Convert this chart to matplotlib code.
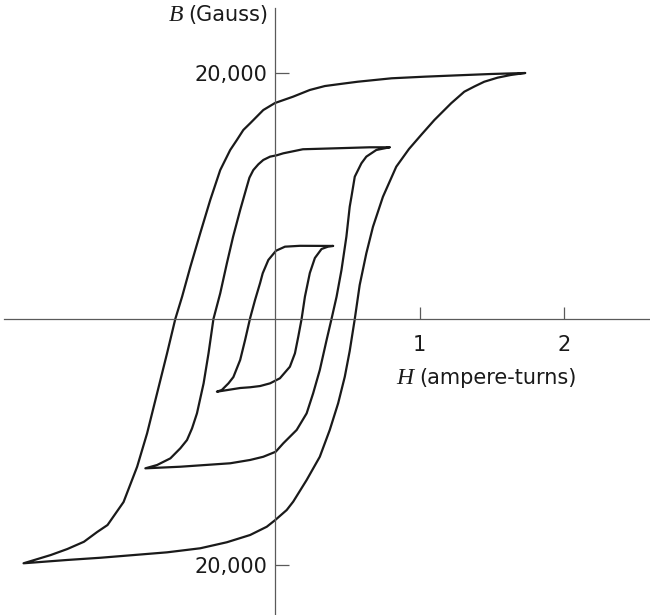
import numpy as np
import matplotlib.pyplot as plt

plt.rcParams['font.family'] = 'DejaVu Sans'

# outer loop: descending branch (from the positive tip) and ascending branch
outer_down_h = [1.731, 1.497, 1.262, 1.034, 0.807, 0.572, 0.460, 0.345, 0.241, 0.124, 0.0,
                -0.081, -0.172, -0.219, -0.264, -0.310, -0.379, -0.448, -0.517, -0.586, -0.643,
                -0.690, -0.747, -0.816, -0.885, -0.954, -1.048, -1.159, -1.231, -1.322, -1.437,
                -1.552, -1.740]
outer_down_b = [20000, 19920, 19810, 19700, 19570, 19290, 19120, 18940, 18620, 18070, 17560,
                16990, 15910, 15370, 14550, 13740, 12110, 9680, 6990, 4230, 1810,
                0, -2790, -6040, -9290, -12010, -14880, -16750, -17320, -18110, -18700,
                -19190, -19860]
outer_up_h = [-1.740, -1.437, -1.207, -0.977, -0.747, -0.517, -0.333, -0.172, -0.057, 0.002,
              0.081, 0.126, 0.219, 0.310, 0.379, 0.437, 0.483, 0.517, 0.552, 0.586, 0.632,
              0.678, 0.747, 0.839, 0.927, 1.014, 1.103, 1.219, 1.310, 1.379, 1.448, 1.540,
              1.632, 1.731]
outer_up_b = [-19860, -19590, -19410, -19190, -18970, -18640, -18150, -17560, -16890, -16340,
              -15530, -14850, -13090, -11200, -9020, -6850, -4690, -2600, 0, 2760, 5340,
              7500, 9940, 12380, 13820, 15000, 16180, 17540, 18480, 18900, 19290, 19620,
              19840, 20000]

# middle loop
middle_down_h = [0.793, 0.655, 0.426, 0.193, 0.057, 0.012, -0.034, -0.081, -0.115, -0.150,
                 -0.177, -0.195, -0.241, -0.290, -0.333, -0.379, -0.426, -0.460, -0.494,
                 -0.540, -0.574, -0.609, -0.655, -0.724, -0.816, -0.897]
middle_down_b = [13960, 13960, 13880, 13800, 13470, 13310, 13200, 12930, 12580, 12110,
                 11490, 10760, 8860, 6690, 4530, 2090, 0, -2790, -5230,
                 -7670, -8890, -9840, -10510, -11330, -11870, -12140]
middle_up_h = [-0.897, -0.655, -0.310, -0.172, -0.081, 0.005, 0.057, 0.150, 0.219, 0.264,
               0.310, 0.357, 0.391, 0.426, 0.460, 0.494, 0.517, 0.529, 0.552, 0.598, 0.632,
               0.701, 0.793]
middle_up_b = [-12140, -12010, -11730, -11460, -11200, -10790, -10110, -9020, -7670, -6040,
               -4150, -1710, 0, 1810, 3980, 6690, 9130, 9940, 11570, 12660, 13200,
               13740, 13960]

# inner loop
inner_down_h = [0.402, 0.172, 0.069, 0.007, -0.046, -0.085, -0.103, -0.138, -0.172, -0.207,
                -0.241, -0.288, -0.322, -0.368, -0.402]
inner_down_b = [5940, 5950, 5880, 5550, 4800, 3720, 2930, 1550, 80, -1710,
                -3330, -4720, -5230, -5770, -5910]
inner_up_h = [-0.402, -0.241, -0.172, -0.103, -0.034, 0.034, 0.103, 0.138, 0.161, 0.184,
              0.207, 0.241, 0.276, 0.322, 0.366, 0.402]
inner_up_b = [-5910, -5610, -5550, -5450, -5230, -4820, -3880, -2790, -1440, 0,
              1810, 3740, 4960, 5690, 5880, 5940]

h_ticks = [1, 2]
h_tick_labels = ['1', '2']
b_ticks = [20000, -20000]
b_tick_labels = ['20,000', '20,000']

loops = [
    (outer_down_h + outer_up_h, outer_down_b + outer_up_b),
    (middle_down_h + middle_up_h, middle_down_b + middle_up_b),
    (inner_down_h + inner_up_h, inner_down_b + inner_up_b),
]

fig = plt.figure(figsize=(6.5, 6.15), dpi=100)
ax = fig.add_axes([0, 0, 1, 1])

ink = '#1a1a1a'
for h, b in loops:
    ax.plot(h, b, color=ink, lw=1.6, solid_joinstyle='round', solid_capstyle='round')

ax.set_xlim(-1.903, 2.595)
ax.set_ylim(-24065, 25935)

axis_col = '#5a5a5a'
ax.spines['top'].set_visible(False)
ax.spines['right'].set_visible(False)
ax.spines['left'].set_position(('data', 0))
ax.spines['bottom'].set_position(('data', 0))
ax.spines['left'].set_bounds(-24065, 25285)
ax.spines['bottom'].set_bounds(-1.875, 2.595)
for s in ['left', 'bottom']:
    ax.spines[s].set_color(axis_col)
    ax.spines[s].set_linewidth(0.9)

ax.set_xticks(h_ticks)
ax.set_xticklabels(h_tick_labels)
ax.set_yticks(b_ticks)
ax.set_yticklabels(b_tick_labels)
ax.tick_params(axis='x', direction='in', length=8.5, width=0.9, color=axis_col,
               pad=11.5, labelsize=15, labelcolor=ink)
ax.tick_params(axis='y', direction='in', length=10, width=0.9, color=axis_col,
               pad=5.5, labelsize=15, labelcolor=ink)

# axis titles: italic serif symbol followed by the unit in sans
b_unit = ax.text(-0.048, 24715, '(Gauss)', ha='right', va='center', fontsize=15, color=ink)
ax.annotate('B', xy=(0, 0.5), xycoords=b_unit, xytext=(-3.5, 0), textcoords='offset points',
            ha='right', va='center', fontsize=17, color=ink,
            family='Liberation Serif', style='italic')
h_unit = ax.text(0.997, -4800, '(ampere-turns)', ha='left', va='center', fontsize=15, color=ink)
ax.annotate('H', xy=(0, 0.5), xycoords=h_unit, xytext=(-4, 0), textcoords='offset points',
            ha='right', va='center', fontsize=17, color=ink,
            family='Liberation Serif', style='italic')

fig.savefig('out.png', dpi=100)
